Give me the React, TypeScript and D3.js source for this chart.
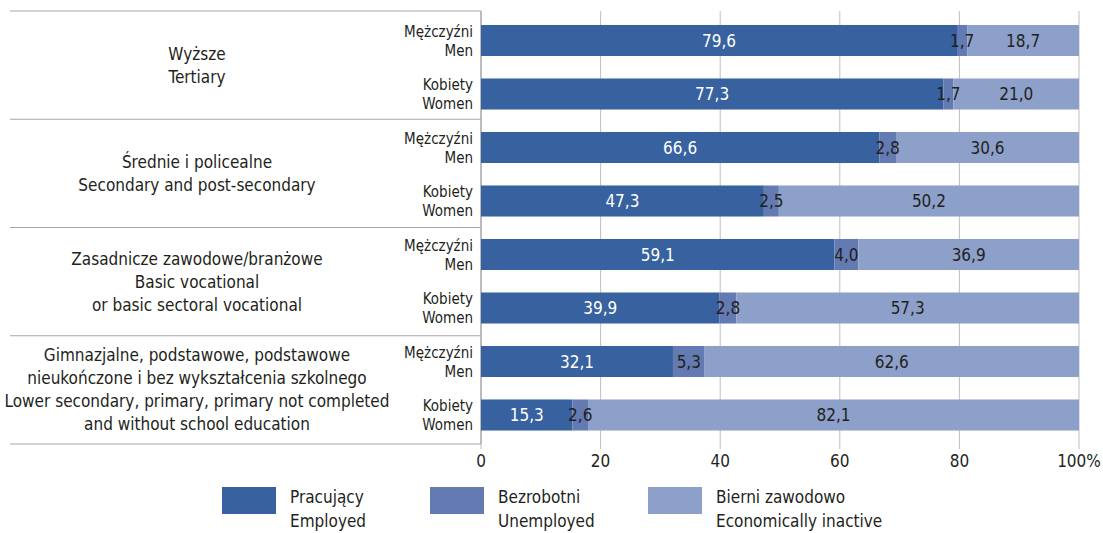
import React from "react";
import * as d3 from "d3";

const groups = [
  ["Wyższe", "Tertiary"],
  ["Średnie i policealne", "Secondary and post-secondary"],
  ["Zasadnicze zawodowe/branżowe", "Basic vocational", "or basic sectoral vocational"],
  ["Gimnazjalne, podstawowe, podstawowe", "nieukończone i bez wykształcenia szkolnego", "Lower secondary, primary, primary not completed", "and without school education"],
];
const sexLabels = [["Mężczyźni", "Men"], ["Kobiety", "Women"]];
const employed = [79.6, 77.3, 66.6, 47.3, 59.1, 39.9, 32.1, 15.3];
const unemployed = [1.7, 1.7, 2.8, 2.5, 4.0, 2.8, 5.3, 2.6];
const inactive = [18.7, 21.0, 30.6, 50.2, 36.9, 57.3, 62.6, 82.1];
const ticks = [0, 20, 40, 60, 80, 100];
const seriesNames = [["Pracujący", "Employed"], ["Bezrobotni", "Unemployed"], ["Bierni zawodowo", "Economically inactive"]];
const colors = ["#37619F", "#637AB2", "#8CA0CA"];
const labelColors = ["#ffffff", "#231f20", "#231f20"];

const FONT = "'Liberation Sans Narrow', 'DejaVu Sans Condensed', 'Roboto', sans-serif";

export default function App() {
  const W = 1103, H = 533;
  const x = d3.scaleLinear().domain([0, 100]).range([481, 1079]);
  const rows = d3.range(employed.length);
  const y = d3.scaleBand<number>().domain(rows).range([13.75, 441.75]).paddingInner(0.42).paddingOuter(0.21);
  const series = [employed, unemployed, inactive];
  const tableTop = 11, tableBottom = 444;
  const gStep = (tableBottom - tableTop) / groups.length;

  return (
    <svg width={W} height={H} style={{ position: "absolute", left: 0, top: 0, fontFamily: FONT }}>
      <rect width={W} height={H} fill="#fff" />
      {/* gridlines */}
      {ticks.map((t) => (
        <line key={"g" + t} x1={x(t)} x2={x(t)} y1={tableTop} y2={tableBottom + 5} stroke="#bfbfbf" strokeWidth={1} />
      ))}
      {/* table lines */}
      {d3.range(groups.length + 1).map((i) => (
        <line key={"h" + i} x1={10} x2={x(0)} y1={tableTop + i * gStep} y2={tableTop + i * gStep} stroke="#a6a6a6" strokeWidth={1.2} />
      ))}
      <line x1={x(0)} x2={x(0)} y1={tableTop} y2={tableBottom} stroke="#a6a6a6" strokeWidth={1.2} />
      {/* group labels */}
      {groups.map((lines, i) => {
        const cy = tableTop + (i + 0.5) * gStep;
        const lh = 23;
        return (
          <text key={"gl" + i} x={197} textAnchor="middle" fontSize={17} fill="#231f20">
            {lines.map((l, j) => (
              <tspan key={j} x={197} y={cy + (j - (lines.length - 1) / 2) * lh + 6}>{l}</tspan>
            ))}
          </text>
        );
      })}
      {/* sex labels */}
      {rows.map((r) => {
        const cy = (y(r) as number) + y.bandwidth() / 2;
        const ls = sexLabels[r % 2];
        return (
          <text key={"sl" + r} textAnchor="end" fontSize={15} fill="#231f20">
            <tspan x={473} y={cy - 4}>{ls[0]}</tspan>
            <tspan x={473} y={cy + 15}>{ls[1]}</tspan>
          </text>
        );
      })}
      {/* bars */}
      {rows.map((r) => {
        let acc = 0;
        return (
          <g key={"b" + r}>
            {series.map((s, k) => {
              const x0 = acc;
              acc += s[r];
              return (
                <rect key={k} x={x(x0)} y={y(r)} width={x(acc) - x(x0)} height={y.bandwidth()} fill={colors[k]} />
              );
            })}
          </g>
        );
      })}
      {rows.map((r) => {
        let acc = 0;
        const cy = (y(r) as number) + y.bandwidth() / 2;
        return (
          <g key={"l" + r}>
            {series.map((s, k) => {
              const x0 = acc;
              acc += s[r];
              return (
                <text key={k} x={x((x0 + acc) / 2)} y={cy + 6} textAnchor="middle" fontSize={17} fill={labelColors[k]}>
                  {s[r].toFixed(1).replace(".", ",")}
                </text>
              );
            })}
          </g>
        );
      })}
      {/* x tick labels */}
      {ticks.map((t) => (
        <text key={"t" + t} x={x(t)} y={467} textAnchor="middle" fontSize={17} fill="#231f20">
          {t === 100 ? "100%" : t}
        </text>
      ))}
      {/* legend */}
      {[222, 430, 648].map((lx, k) => (
        <g key={"lg" + k}>
          <rect x={lx} y={487} width={54} height={27} fill={colors[k]} />
          <text fontSize={17} fill="#231f20">
            <tspan x={lx + 68} y={503}>{seriesNames[k][0]}</tspan>
            <tspan x={lx + 68} y={527}>{seriesNames[k][1]}</tspan>
          </text>
        </g>
      ))}
    </svg>
  );
}
